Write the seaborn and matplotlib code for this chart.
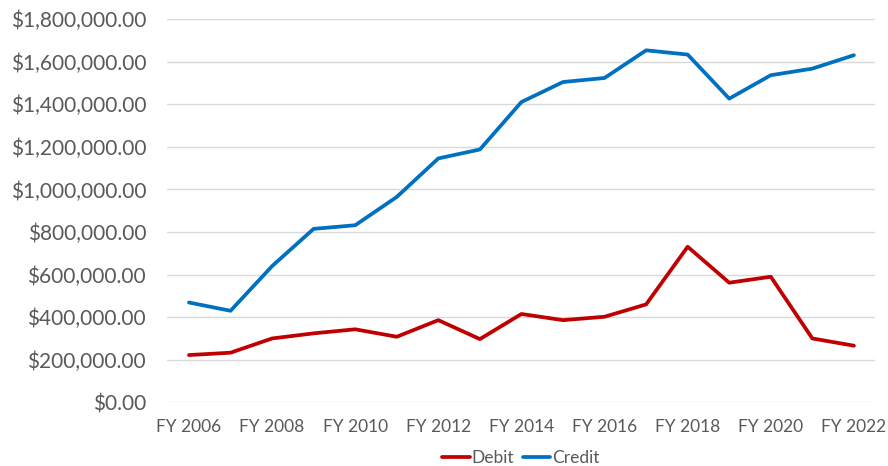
import pandas as pd
import matplotlib.pyplot as plt
import seaborn as sns
from matplotlib.ticker import FuncFormatter

years = [f"FY {y}" for y in range(2006, 2023)]
debit = [222000, 233000, 300000, 324000, 343000, 308000, 386000, 297000, 415000,
         386000, 402000, 460000, 731000, 562000, 590000, 300000, 266000]
credit = [469000, 430000, 640000, 815000, 832000, 965000, 1146000, 1188000, 1411000,
          1505000, 1524000, 1654000, 1634000, 1427000, 1537000, 1568000, 1631000]

df = pd.DataFrame({
    'year': years * 2,
    'idx': list(range(len(years))) * 2,
    'amount': debit + credit,
    'series': ['Debit'] * len(years) + ['Credit'] * len(years),
})

sns.set_style('white')
plt.rcParams['font.family'] = ['Lato', 'DejaVu Sans']
text_col = '#595959'

fig = plt.figure(figsize=(8.88, 4.66), dpi=100)
ax = fig.add_axes([0.188, 0.1367, 0.797, 0.822])

sns.lineplot(data=df, x='idx', y='amount', hue='series',
             palette={'Debit': '#C00000', 'Credit': '#0070C0'},
             linewidth=2.7, ax=ax, legend=True)

ax.set_ylim(0, 1800000)
ax.set_yticks(range(0, 1800001, 200000))
ax.yaxis.set_major_formatter(FuncFormatter(lambda v, p: f"${v:,.2f}"))
ax.set_xlim(-0.53, 16.5)
ax.set_xticks(range(0, len(years), 2))
ax.set_xticklabels(years[::2])
ax.grid(axis='y', color='#d9d9d9', linewidth=1)
ax.set_axisbelow(True)
for s in ax.spines.values():
    s.set_visible(False)
ax.tick_params(axis='y', labelsize=15, colors=text_col, length=0, pad=15)
ax.tick_params(axis='x', labelsize=12.5, colors=text_col, length=0, pad=12)
ax.set_xlabel('')
ax.set_ylabel('')

handles, labels = ax.get_legend_handles_labels()
ax.legend(handles, labels, loc='lower center', bbox_to_anchor=(0.5, -0.198), ncol=2,
          frameon=False, fontsize=12.5, handlelength=1.6, handletextpad=0.1,
          columnspacing=0.5, labelcolor=text_col, borderpad=0.2)

fig.savefig('out.png', dpi=100)
